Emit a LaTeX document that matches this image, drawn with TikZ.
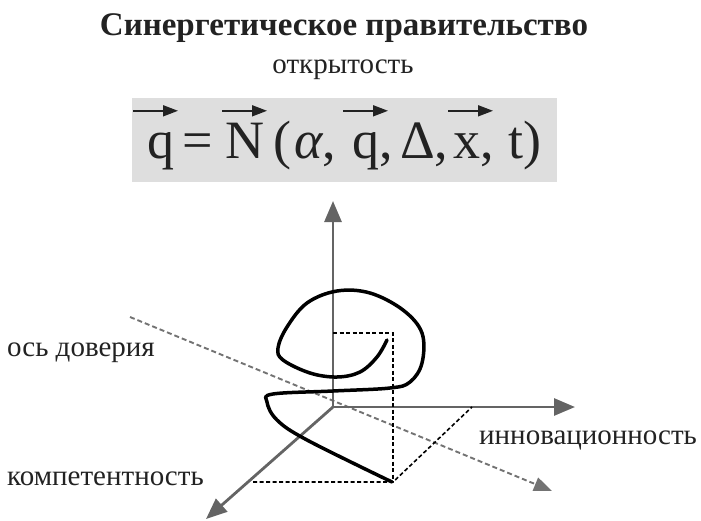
\documentclass[tikz,border=0pt]{standalone}
\usepackage{fontspec}
\setmainfont{Liberation Serif}
\usetikzlibrary{arrows.meta}

\definecolor{axisgray}{RGB}{100,100,100}
\definecolor{trustgray}{RGB}{115,115,115}
\definecolor{boxgray}{RGB}{222,222,222}
\definecolor{inkdark}{RGB}{34,34,34}

\begin{document}
\begin{tikzpicture}[x=1pt, y=-1pt,
  axis/.style={draw=axisgray, line width=2.8pt, -{Triangle[length=21pt,width=17pt]}},
  trust/.style={draw=trustgray, line width=1.9pt, dash pattern=on 5pt off 3pt, -{Triangle[length=18pt,width=14pt]}},
  proj/.style={draw=black, line width=1.6pt, dash pattern=on 4pt off 2.5pt},
  vecarr/.style={draw=inkdark, fill=inkdark, line width=1.7pt, -{Triangle[length=15pt,width=11pt]}},
  formula/.style={inner sep=0pt, anchor=base west, text height=36pt, text depth=14pt, font=\fontsize{54}{62}\selectfont, text=inkdark},
  axislabel/.style={inner sep=0pt, anchor=base west, font=\fontsize{29}{34}\selectfont, text=inkdark}]
      \useasboundingbox (0,0) rectangle (701,520);

      % Header
      \node[inner sep=0pt, anchor=base, font=\bfseries\fontsize{33}{38}\selectfont, text=inkdark] (title) at (344,35) {Синергетическое правительство};
      \node[axislabel, anchor=base] (open) at (343,73) {открытость};

      % Formula on grey box
      \node[fill=boxgray, minimum width=425pt, minimum height=84pt, inner sep=0pt] (fbox) at (344.5,140) {};
      \node[formula] (fq1) at (147,158) {q};
      \node[formula] (feq) at (182,158) {=};
      \node[formula] (fN) at (225,158) {N};
      \node[formula] (fp) at (273,158) {(};
      \node[formula] (fa) at (294,158) {\textit{α},};
      \node[formula] (fq2) at (352,158) {q,};
      \node[formula] (fd) at (400,158) {Δ,};
      \node[formula] (fx) at (453,158) {x,};
      \node[formula] (ft) at (508,158) {t)};
      \foreach \n/\s in {fq1/-14pt, fN/-3pt, fq2/-9pt, fx/-5pt}
        \draw[vecarr] ([xshift=\s, yshift=11pt]\n.north west) -- ++(45,0);

      % Axes
      \coordinate (O) at (333,407);
      \coordinate (zt) at (333,201);
      \coordinate (xt) at (575,407);
      \coordinate (yt) at (206,519);
      \coordinate (ts) at (130,317);
      \coordinate (te) at (552,491);
      \draw[trust] (ts) -- (te);
      \draw[axis] (O) -- (zt);
      \draw[axis] (O) -- (xt);
      \draw[axis] (O) -- (yt);

      % Projections of the end point
      \coordinate (P) at (393,482);
      \coordinate (pz) at (333,333);
      \coordinate (pzx) at (393,333);
      \coordinate (py) at (253,482);
      \coordinate (px) at (472,407);
      \draw[proj] (pz) -- (pzx) -- (P);
      \draw[proj] (py) -- (P) -- (px);

      % Trajectory
      \draw[line width=3.5pt, line cap=round, line join=round] plot[smooth, tension=0.6] coordinates {
        (387,340) (377,357) (360,372) (337,377) (310,373) (283,360) (278,348)
        (287,327) (307,303) (337,291) (370,293) (403,310) (422,333) (422,363)
        (410,382) (390,388) (333,391) (273,394) (267,402) (277,420) (307,440) (392,482)};

      \node[axislabel] (trustlbl) at (7,356) {ось доверия};
      \node[axislabel] (complbl) at (7,485) {компетентность};
      \node[axislabel] (innovlbl) at (479,444) {инновационность};
\end{tikzpicture}
\end{document}
